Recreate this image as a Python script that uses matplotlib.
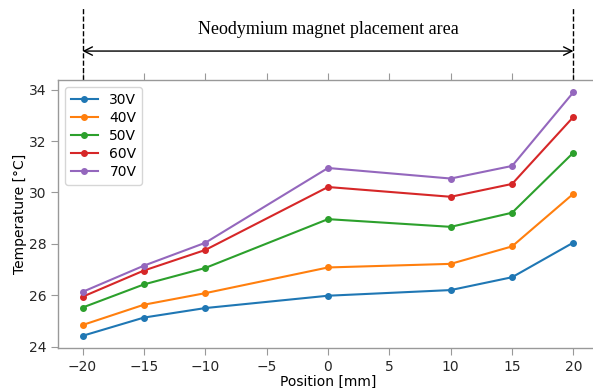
import matplotlib
matplotlib.use('Agg')
import matplotlib.pyplot as plt
import matplotlib.transforms as mtransforms

# positions along the rail [mm]
position = [-20, -15, -10, 0, 10, 15, 20]

# temperature readings [degC] per supply voltage
t_30v = [24.42, 25.13, 25.50, 25.98, 26.20, 26.70, 28.05]
t_40v = [24.84, 25.63, 26.08, 27.08, 27.22, 27.90, 29.95]
t_50v = [25.52, 26.42, 27.06, 28.96, 28.66, 29.21, 31.55]
t_60v = [25.94, 26.96, 27.76, 30.21, 29.83, 30.33, 32.94]
t_70v = [26.13, 27.15, 28.04, 30.95, 30.54, 31.03, 33.90]

labels = ['30V', '40V', '50V', '60V', '70V']
series = [t_30v, t_40v, t_50v, t_60v, t_70v]

fig = plt.figure(figsize=(5.93, 3.88), dpi=100)
ax = fig.add_axes([58/593, 40/388, 540/593, 268/388])

for lab, vals in zip(labels, series):
    ax.plot(position, vals, marker='o', markersize=4, linewidth=1.5, label=lab)

ax.set_xlabel('Position [mm]', fontsize=10, labelpad=1)
ax.set_ylabel('Temperature [°C]', fontsize=10, labelpad=1)
ax.set_xticks([-20, -15, -10, -5, 0, 5, 10, 15, 20])
ax.tick_params(top=True, labeltop=False, colors='0.6', labelcolor='0.15',
               labelsize=10, length=5)
for s in ax.spines.values():
    s.set_color('0.6')
    s.set_linewidth(1.0)
ax.spines['right'].set_visible(False)
ax.legend(loc='upper left', fontsize=10, labelspacing=0.3)

# magnet placement markers above the plot
tr = mtransforms.blended_transform_factory(ax.transData, ax.transAxes)
for xv in [-20, 20]:
    ax.plot([xv, xv], [1.0, 1.27], transform=tr, color='black', linestyle='--',
            linewidth=1.0, clip_on=False)
ax.annotate('', xy=(-20, 1.108), xytext=(20, 1.108), xycoords=tr, textcoords=tr,
            arrowprops=dict(arrowstyle='<->', color='black', lw=1.0,
                            shrinkA=0, shrinkB=0, mutation_scale=15))
ax.text(0, 1.19, 'Neodymium magnet placement area', transform=tr,
        ha='center', va='center', fontsize=13, family='Liberation Serif')

fig.savefig('out.png', dpi=100)
